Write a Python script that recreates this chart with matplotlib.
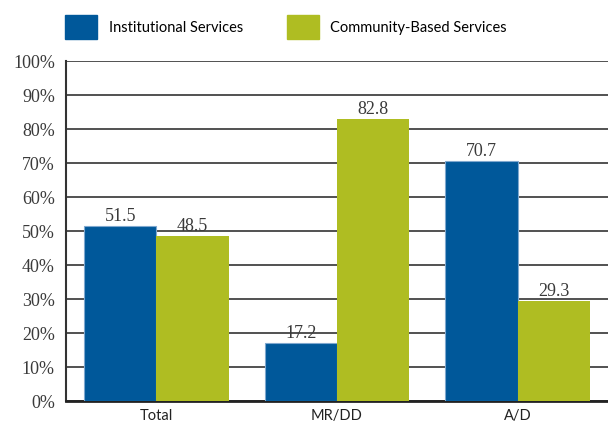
import matplotlib
matplotlib.use("Agg")
import matplotlib.pyplot as plt
from matplotlib.patches import Patch
import numpy as np

categories = ["Total", "MR/DD", "A/D"]
institutional = [51.5, 17.2, 70.7]
community = [48.5, 82.8, 29.3]
series_names = ["Institutional Services", "Community-Based Services"]

blue = "#00589a"
green = "#afbd22"
serif = "Liberation Serif"
sans = "Lato"

fig = plt.figure(figsize=(6.08, 4.26), dpi=100)
ax = fig.add_axes([66 / 608, 25 / 426, 1 - 66 / 608, 340 / 426])

x = np.arange(len(categories))
w = 0.4
b1 = ax.bar(x - w / 2, institutional, w, color=blue, edgecolor="#7fa8cf", linewidth=0.8, zorder=3)
b2 = ax.bar(x + w / 2, community, w, color=green, linewidth=0, zorder=3)

for bars, vals in [(b1, institutional), (b2, community)]:
    for r, v in zip(bars, vals):
        ax.text(r.get_x() + r.get_width() / 2, v + 0.3, f"{v:.1f}", ha="center", va="bottom",
                fontsize=13, family=serif, color="#3a3a3a")

ax.set_xlim(-0.5, 2.5)
ax.set_ylim(0, 100)
ax.set_yticks(np.arange(0, 101, 10))
ax.set_yticklabels([f"{t}%" for t in range(0, 101, 10)], family=serif, fontsize=13, color="#3a3a3a")
ax.set_xticks(x)
ax.set_xticklabels(categories, family=sans, fontsize=10.5, color="#222222")
ax.tick_params(axis="both", length=0, pad=6)
ax.tick_params(axis="y", pad=8)
ax.yaxis.grid(True, color="#333333", linewidth=1.2, zorder=0)
ax.set_axisbelow(True)
for s in ["top", "right"]:
    ax.spines[s].set_visible(False)
ax.spines["left"].set_linewidth(1.5)
ax.spines["left"].set_color("#333333")
ax.spines["bottom"].set_linewidth(2)
ax.spines["bottom"].set_color("#222222")

handles = [Patch(color=blue), Patch(color=green)]
fig.legend(handles, series_names, loc="upper left", bbox_to_anchor=(0.085, 0.995), ncol=2,
           frameon=False, handlelength=2.2, handleheight=2.1, columnspacing=3.0, handletextpad=0.8,
           prop={"family": sans, "size": 10.5})

fig.savefig("out.png", dpi=100)
